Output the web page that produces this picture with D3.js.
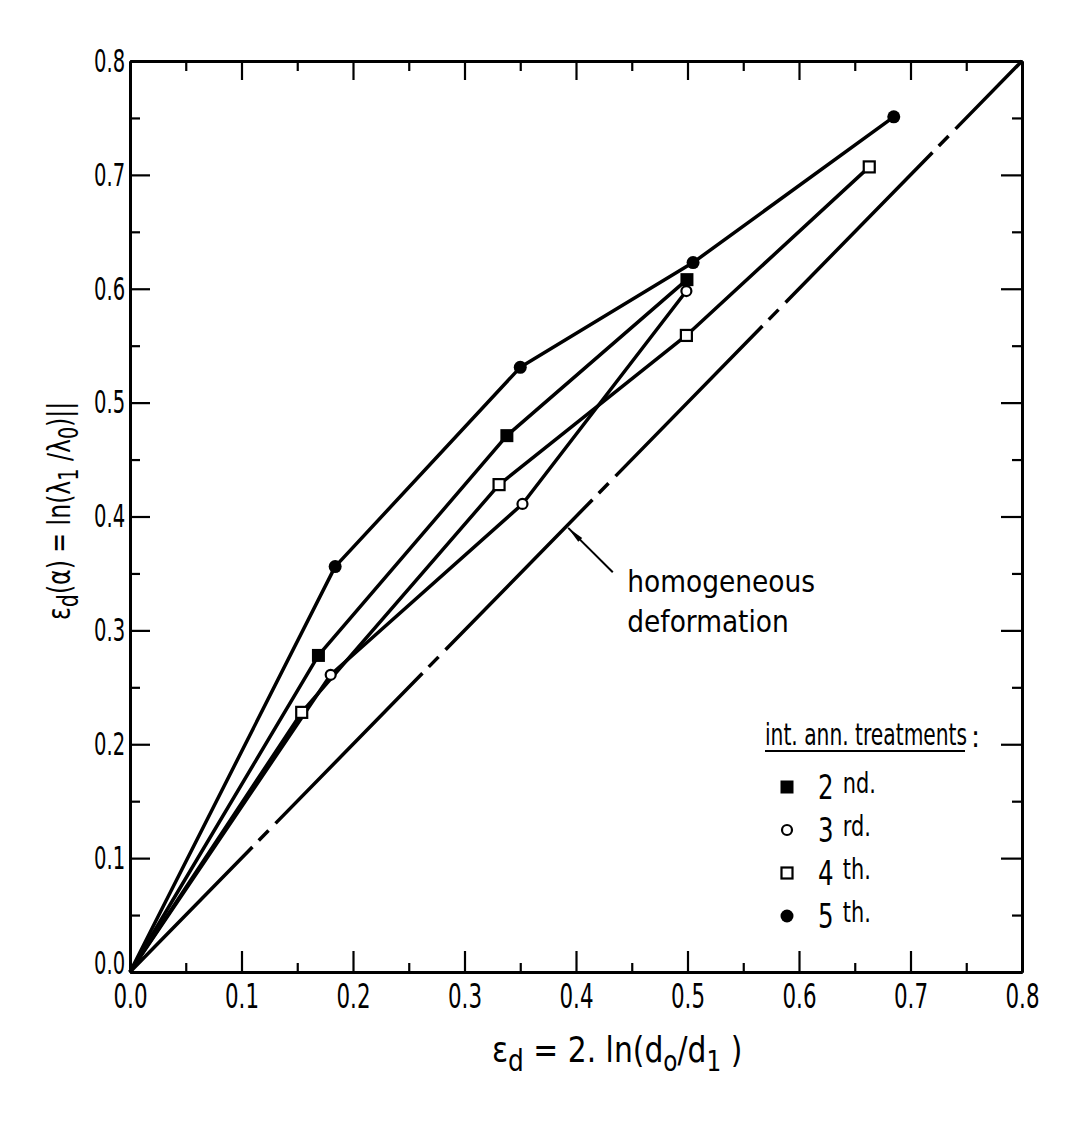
<!DOCTYPE html>
<html>
<head>
<meta charset="utf-8">
<script src="https://cdn.jsdelivr.net/npm/d3@7"></script>
<style>
  body { margin: 0; background: #fff; }
  text { font-family: "DejaVu Sans Condensed", "DejaVu Sans", sans-serif; fill: #000; }
</style>
</head>
<body>
<svg id="chart" width="1086" height="1121"></svg>
<script>
// measured strains, one pair of arrays per intermediate annealing treatment
const x2nd = [0, 0.169, 0.338, 0.4995];
const y2nd = [0, 0.278, 0.471, 0.608];
const x3rd = [0, 0.180, 0.352, 0.499];
const y3rd = [0, 0.261, 0.411, 0.598];
const x4th = [0, 0.154, 0.331, 0.499, 0.663];
const y4th = [0, 0.228, 0.428, 0.559, 0.707];
const x5th = [0, 0.184, 0.350, 0.505, 0.685];
const y5th = [0, 0.356, 0.531, 0.623, 0.751];

// homogeneous deformation reference line
const xHom = [0, 0.8];
const yHom = [0, 0.8];

const treatmentNums = ["2", "3", "4", "5"];
const treatmentSups = ["nd.", "rd.", "th.", "th."];
const markerKinds = ["filledSquare", "openCircle", "openSquare", "filledCircle"];

const majorTicks = [0, 0.1, 0.2, 0.3, 0.4, 0.5, 0.6, 0.7, 0.8];
const minorTicks = [0.05, 0.15, 0.25, 0.35, 0.45, 0.55, 0.65, 0.75];

const series = [
  { xs: x2nd, ys: y2nd, kind: markerKinds[0] },
  { xs: x3rd, ys: y3rd, kind: markerKinds[1] },
  { xs: x4th, ys: y4th, kind: markerKinds[2] },
  { xs: x5th, ys: y5th, kind: markerKinds[3] },
];

const plotL = 130, plotR = 1022, plotT = 61, plotB = 972;
const x = d3.scaleLinear().domain([0, 0.8]).range([plotL, plotR]);
const y = d3.scaleLinear().domain([0, 0.8]).range([plotB, plotT]);

const svg = d3.select("#chart");
const fmt = d3.format(".1f");

function styleAxis(g) {
  g.select(".domain").attr("stroke", "#000").attr("stroke-width", 3);
  g.selectAll(".tick line").attr("stroke", "#000").attr("stroke-width", 2.2);
}

// minor ticks on all four sides
svg.append("g").attr("transform", `translate(0,${plotB})`)
  .call(d3.axisBottom(x).tickValues(minorTicks).tickSize(-9).tickSizeOuter(0).tickFormat(""))
  .call(styleAxis);
svg.append("g").attr("transform", `translate(0,${plotT})`)
  .call(d3.axisTop(x).tickValues(minorTicks).tickSize(-10).tickSizeOuter(0).tickFormat(""))
  .call(styleAxis);
svg.append("g").attr("transform", `translate(${plotL},0)`)
  .call(d3.axisLeft(y).tickValues(minorTicks).tickSize(-10).tickSizeOuter(0).tickFormat(""))
  .call(styleAxis);
svg.append("g").attr("transform", `translate(${plotR},0)`)
  .call(d3.axisRight(y).tickValues(minorTicks).tickSize(-10).tickSizeOuter(0).tickFormat(""))
  .call(styleAxis);

// major ticks with labels
const xAxis = svg.append("g").attr("transform", `translate(0,${plotB})`)
  .call(d3.axisBottom(x).tickValues(majorTicks).tickSize(-21).tickSizeOuter(0).tickPadding(12).tickFormat(fmt))
  .call(styleAxis);
xAxis.selectAll("text").attr("font-size", 34).attr("font-family", null)
  .attr("transform", "scale(0.7,1)");

const yAxis = svg.append("g").attr("transform", `translate(${plotL},0)`)
  .call(d3.axisLeft(y).tickValues(majorTicks).tickSize(-20).tickSizeOuter(0).tickPadding(7).tickFormat(fmt))
  .call(styleAxis);
yAxis.selectAll("text").attr("font-size", 32).attr("font-family", null)
  .attr("transform", "scale(0.68,1)");
// the two 0.0 labels sit in the corner, nudge the vertical one up a bit
yAxis.selectAll(".tick").filter(d => d === 0).select("text").attr("dy", "0.05em");

svg.append("g").attr("transform", `translate(0,${plotT})`)
  .call(d3.axisTop(x).tickValues(majorTicks.slice(1, -1)).tickSize(-19).tickSizeOuter(0).tickFormat(""))
  .call(styleAxis);
svg.append("g").attr("transform", `translate(${plotR},0)`)
  .call(d3.axisRight(y).tickValues(majorTicks.slice(1, -1)).tickSize(-21).tickSizeOuter(0).tickFormat(""))
  .call(styleAxis);

// homogeneous deformation, dash-dot
const line = d3.line().x(d => x(d[0])).y(d => y(d[1]));
svg.append("path")
  .attr("d", line(d3.zip(xHom, yHom)))
  .attr("fill", "none").attr("stroke", "#000").attr("stroke-width", 3.5)
  .attr("stroke-dasharray", "210,9,14,10").attr("stroke-dashoffset", 35);

// data lines
series.forEach(s => {
  svg.append("path")
    .attr("d", line(d3.zip(s.xs, s.ys)))
    .attr("fill", "none").attr("stroke", "#000").attr("stroke-width", 3.5)
    .attr("stroke-linejoin", "round");
});

function drawMarker(g, kind, cx, cy) {
  if (kind === "filledSquare") {
    g.append("rect").attr("x", cx - 6.5).attr("y", cy - 6.5).attr("width", 13).attr("height", 13).attr("fill", "#000");
  } else if (kind === "openSquare") {
    g.append("rect").attr("x", cx - 5.5).attr("y", cy - 5.5).attr("width", 11).attr("height", 11)
      .attr("fill", "#fff").attr("stroke", "#000").attr("stroke-width", 2.2);
  } else if (kind === "openCircle") {
    g.append("circle").attr("cx", cx).attr("cy", cy).attr("r", 5)
      .attr("fill", "#fff").attr("stroke", "#000").attr("stroke-width", 2.2);
  } else {
    g.append("circle").attr("cx", cx).attr("cy", cy).attr("r", 6.5).attr("fill", "#000");
  }
}

const marks = svg.append("g");
series.forEach(s => {
  s.xs.forEach((v, i) => {
    if (i === 0) return;
    drawMarker(marks, s.kind, x(v), y(s.ys[i]));
  });
});

// annotation pointer
const tail = [x(0.433), y(0.351)], tip = [x(0.393), y(0.390)];
svg.append("line")
  .attr("x1", tail[0]).attr("y1", tail[1]).attr("x2", tip[0]).attr("y2", tip[1])
  .attr("stroke", "#000").attr("stroke-width", 2);
const dx = tail[0] - tip[0], dy = tail[1] - tip[1], len = Math.hypot(dx, dy);
const ux = dx / len, uy = dy / len, hl = 17, hw = 2.8;
svg.append("polygon")
  .attr("points", [
    [tip[0], tip[1]],
    [tip[0] + ux * hl - uy * hw, tip[1] + uy * hl + ux * hw],
    [tip[0] + ux * hl + uy * hw, tip[1] + uy * hl - ux * hw]
  ].map(p => p.join(",")).join(" "))
  .attr("fill", "#000");

const annot = svg.append("g").attr("transform", `translate(${x(0.446)},0) scale(0.98,1)`);
annot.append("text").attr("y", y(0.334)).attr("font-size", 30).text("homogeneous");
annot.append("text").attr("y", y(0.299)).attr("font-size", 30).text("deformation");

// legend
const legend = svg.append("g");
legend.append("g").attr("transform", "translate(765,745) scale(0.75,1)")
  .append("text").attr("font-size", 30).text("int. ann. treatments");
legend.append("text").attr("x", 971).attr("y", 747).attr("font-size", 30).text(":");
legend.append("line").attr("x1", 765).attr("x2", 965).attr("y1", 751).attr("y2", 751)
  .attr("stroke", "#000").attr("stroke-width", 2);

const rowY = [787, 830, 873, 916];
treatmentNums.forEach((n, i) => {
  drawMarker(legend, markerKinds[i], 787, rowY[i]);
  const t = legend.append("g").attr("transform", `translate(818,${rowY[i] + 12}) scale(0.8,1)`);
  t.append("text").attr("font-size", 34).text(n);
  t.append("text").attr("x", 31).attr("y", -6).attr("font-size", 29).text(treatmentSups[i]);
});

// axis titles
const xt = svg.append("g").attr("transform", "translate(492,1062) scale(0.92,1)")
  .append("text").attr("font-size", 36);
xt.append("tspan").text("ε");
xt.append("tspan").attr("dy", 9).attr("font-size", 30).text("d");
xt.append("tspan").attr("dy", -9).text(" = 2. ln(d");
xt.append("tspan").attr("dy", 9).attr("font-size", 28).text("o");
xt.append("tspan").attr("dy", -9).text("/d");
xt.append("tspan").attr("dy", 9).attr("font-size", 28).text("1");
xt.append("tspan").attr("dy", -9).text(" )");

const yt = svg.append("g").attr("transform", "translate(70,620) rotate(-90) scale(0.82,1)")
  .append("text").attr("font-size", 32);
yt.append("tspan").text("ε");
yt.append("tspan").attr("dy", 8).attr("font-size", 28).text("d");
yt.append("tspan").attr("dy", -8).text("(α) = ln(λ");
yt.append("tspan").attr("dy", 8).attr("font-size", 26).text("1");
yt.append("tspan").attr("dy", -8).text(" /λ");
yt.append("tspan").attr("dy", 8).attr("font-size", 26).text("0");
yt.append("tspan").attr("dy", -8).text(")||");
</script>
</body>
</html>
